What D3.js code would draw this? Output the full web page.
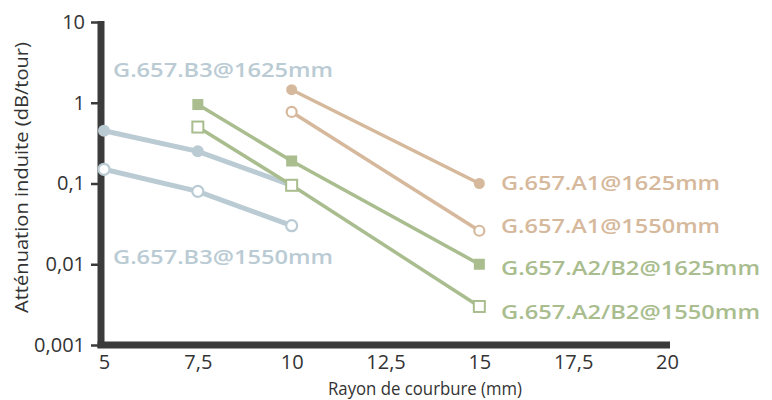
<!DOCTYPE html>
<html>
<head>
<meta charset="utf-8">
<script src="https://cdn.jsdelivr.net/npm/d3@7/dist/d3.min.js"></script>
<style>
  html, body { margin: 0; padding: 0; background: #ffffff; }
  svg { display: block; }
  text { font-family: "Open Sans", "Noto Sans", sans-serif; }
</style>
</head>
<body>
<svg id="chart" width="772" height="400"></svg>
<script>
// ---- data ----
const xTicks = [5, 7.5, 10, 12.5, 15, 17.5, 20];
const yTicks = [0.001, 0.01, 0.1, 1, 10];

const b3_1625_x = [5, 7.5, 10];
const b3_1625_y = [0.45, 0.25, 0.095];
const b3_1550_x = [5, 7.5, 10];
const b3_1550_y = [0.15, 0.08, 0.03];
const a2b2_1625_x = [7.5, 10, 15];
const a2b2_1625_y = [0.95, 0.19, 0.01];
const a2b2_1550_x = [7.5, 10, 15];
const a2b2_1550_y = [0.5, 0.095, 0.003];
const a1_1625_x = [10, 15];
const a1_1625_y = [1.45, 0.1];
const a1_1550_x = [10, 15];
const a1_1550_y = [0.77, 0.026];

const seriesNames = ["G.657.B3@1625mm", "G.657.B3@1550mm", "G.657.A1@1625mm",
                     "G.657.A1@1550mm", "G.657.A2/B2@1625mm", "G.657.A2/B2@1550mm"];

const xTitle = "Rayon de courbure (mm)";
const yTitle = "Atténuation induite (dB/tour)";

// ---- styles ----
const blue = "#bacbd4", tan = "#d6b99c", green = "#a9bd8e", axisCol = "#3b3b3b", textCol = "#333333";

const series = [
  {name: seriesNames[0], xs: b3_1625_x, ys: b3_1625_y, color: blue, w: 5, shape: "circle", fill: true,
   lx: 113, ly: 70, lw: 220},
  {name: seriesNames[1], xs: b3_1550_x, ys: b3_1550_y, color: blue, w: 5, shape: "circle", fill: false,
   lx: 113, ly: 257, lw: 220},
  {name: seriesNames[2], xs: a1_1625_x, ys: a1_1625_y, color: tan, w: 3.5, shape: "circle", fill: true,
   lx: 501, ly: 183, lw: 219},
  {name: seriesNames[3], xs: a1_1550_x, ys: a1_1550_y, color: tan, w: 3.5, shape: "circle", fill: false,
   lx: 501, ly: 226, lw: 219},
  {name: seriesNames[4], xs: a2b2_1625_x, ys: a2b2_1625_y, color: green, w: 3.5, shape: "square", fill: true,
   lx: 501, ly: 268, lw: 259},
  {name: seriesNames[5], xs: a2b2_1550_x, ys: a2b2_1550_y, color: green, w: 3.5, shape: "square", fill: false,
   lx: 501, ly: 312, lw: 259}
];

const svg = d3.select("#chart");
const x = d3.scaleLinear().domain([5, 20]).range([104, 667]);
const y = d3.scaleLog().domain([0.001, 10]).range([345, 22]);

// y-axis ticks & labels
const yAxis = d3.axisLeft(y).tickValues(yTicks).tickSize(10).tickPadding(6)
  .tickFormat(d => d3.format("~g")(d).replace(".", ","));
const gy = svg.append("g").attr("transform", "translate(101,0)").call(yAxis);
gy.select(".domain").remove();
gy.selectAll(".tick line").attr("stroke", axisCol).attr("stroke-width", 2.5);
gy.selectAll(".tick text").attr("fill", textCol).attr("font-size", 20)
  .style("font-family", '"Open Sans", sans-serif');

// x-axis labels
const xAxis = d3.axisBottom(x).tickValues(xTicks).tickSize(0).tickPadding(6)
  .tickFormat(d => String(d).replace(".", ","));
const gx = svg.append("g").attr("transform", "translate(0,349)").call(xAxis);
gx.select(".domain").remove();
gx.selectAll(".tick text").attr("fill", textCol).attr("font-size", 20)
  .style("font-family", '"Open Sans", sans-serif');

// axis bars
svg.append("line").attr("x1", 101).attr("x2", 101).attr("y1", 21).attr("y2", 348)
  .attr("stroke", axisCol).attr("stroke-width", 7);
svg.append("line").attr("x1", 97.5).attr("x2", 670).attr("y1", 345).attr("y2", 345)
  .attr("stroke", axisCol).attr("stroke-width", 7);

// titles
svg.append("text").attr("x", 425).attr("y", 395).attr("text-anchor", "middle")
  .attr("font-size", 18).attr("fill", textCol)
  .attr("textLength", 194).attr("lengthAdjust", "spacingAndGlyphs").text(xTitle);
svg.append("text").attr("transform", "translate(28,177.5) rotate(-90)").attr("text-anchor", "middle")
  .attr("font-size", 18).attr("fill", textCol)
  .attr("textLength", 271).attr("lengthAdjust", "spacingAndGlyphs").text(yTitle);

// series
const line = d3.line().x(d => x(d[0])).y(d => y(d[1]));
series.forEach(s => {
  const pts = s.xs.map((v, i) => [v, s.ys[i]]);
  svg.append("path").attr("d", line(pts)).attr("fill", "none")
    .attr("stroke", s.color).attr("stroke-width", s.w);
  const g = svg.append("g");
  pts.forEach(p => {
    if (s.shape === "circle") {
      const r = s.w > 4 ? 6 : 5.5;
      g.append("circle").attr("cx", x(p[0])).attr("cy", y(p[1]))
        .attr("r", s.fill ? r : r - 0.5)
        .attr("fill", s.fill ? s.color : "#ffffff")
        .attr("stroke", s.color).attr("stroke-width", s.fill ? 0 : 2.2);
    } else {
      const sz = 11;
      g.append("rect").attr("x", x(p[0]) - sz / 2).attr("y", y(p[1]) - sz / 2)
        .attr("width", sz).attr("height", sz)
        .attr("fill", s.fill ? s.color : "#ffffff")
        .attr("stroke", s.color).attr("stroke-width", s.fill ? 0 : 2);
    }
  });
  svg.append("text").attr("x", s.lx).attr("y", s.ly).attr("dy", "0.35em")
    .attr("font-size", 20).attr("font-weight", 600).attr("fill", s.color)
    .attr("textLength", s.lw).attr("lengthAdjust", "spacingAndGlyphs")
    .text(s.name);
});
</script>
</body>
</html>
